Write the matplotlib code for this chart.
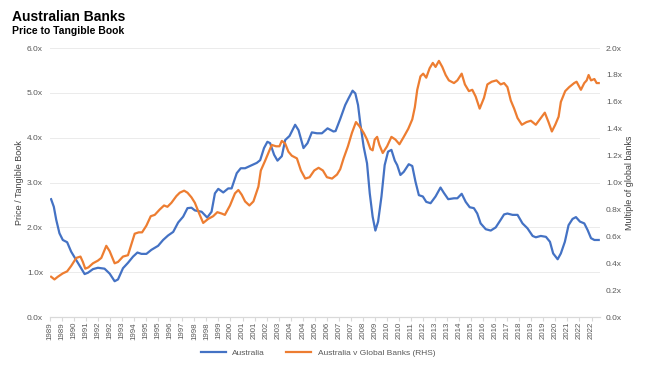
import matplotlib
matplotlib.use('Agg')
import matplotlib.pyplot as plt
from matplotlib.ticker import FuncFormatter

plt.rcParams['font.family'] = ['Liberation Sans', 'DejaVu Sans']

# Australia price to tangible book (left axis), decimal years
aus_t = [1989.07, 1989.24, 1989.39, 1989.59, 1989.80, 1990.07, 1990.32, 1990.64, 1990.90, 1991.16,
         1991.37, 1991.68, 1991.99, 1992.40, 1992.72, 1993.03, 1993.24, 1993.55, 1993.86, 1994.18,
         1994.45, 1994.70, 1995.01, 1995.32, 1995.74, 1996.05, 1996.36, 1996.68, 1996.99, 1997.30,
         1997.57, 1997.82, 1998.03, 1998.45, 1998.80, 1999.07, 1999.28, 1999.49, 1999.80, 2000.11,
         2000.32, 2000.64, 2000.89, 2001.16, 2001.47, 2001.89, 2002.10, 2002.34, 2002.55, 2002.72,
         2002.97, 2003.18, 2003.45, 2003.66, 2003.93, 2004.28, 2004.49, 2004.80, 2005.05, 2005.32,
         2005.64, 2005.95, 2006.30, 2006.67, 2006.80, 2007.09, 2007.40, 2007.61, 2007.86, 2008.03,
         2008.20, 2008.34, 2008.55, 2008.76, 2008.93, 2009.11, 2009.28, 2009.45, 2009.66, 2009.86,
         2010.07, 2010.28, 2010.49, 2010.64, 2010.84, 2011.05, 2011.36, 2011.58, 2011.78, 2011.99,
         2012.24, 2012.45, 2012.72, 2013.03, 2013.34, 2013.55, 2013.82, 2014.18, 2014.39, 2014.66,
         2014.91, 2015.16, 2015.42, 2015.63, 2015.84, 2016.16, 2016.47, 2016.78, 2017.09, 2017.30,
         2017.51, 2017.83, 2018.14, 2018.45, 2018.76, 2019.08, 2019.28, 2019.59, 2019.91, 2020.16,
         2020.36, 2020.64, 2020.84, 2021.09, 2021.32, 2021.57, 2021.78, 2022.03, 2022.30, 2022.51,
         2022.72, 2022.93, 2023.20]
aus_pb = [2.63, 2.46, 2.17, 1.87, 1.72, 1.67, 1.46, 1.27, 1.12, 0.96,
          0.99, 1.07, 1.10, 1.08, 0.97, 0.80, 0.84, 1.09, 1.21, 1.35,
          1.44, 1.41, 1.41, 1.50, 1.59, 1.72, 1.82, 1.90, 2.11, 2.24,
          2.43, 2.44, 2.38, 2.35, 2.22, 2.35, 2.76, 2.86, 2.78, 2.87,
          2.87, 3.21, 3.32, 3.32, 3.37, 3.44, 3.50, 3.77, 3.91, 3.88,
          3.62, 3.49, 3.59, 3.95, 4.04, 4.29, 4.17, 3.77, 3.88, 4.12,
          4.10, 4.10, 4.21, 4.14, 4.15, 4.42, 4.73, 4.88, 5.05, 4.99,
          4.73, 4.32, 3.80, 3.43, 2.76, 2.24, 1.93, 2.13, 2.69, 3.39,
          3.69, 3.73, 3.49, 3.39, 3.17, 3.24, 3.41, 3.37, 3.02, 2.72,
          2.69, 2.57, 2.54, 2.69, 2.89, 2.77, 2.63, 2.65, 2.65, 2.75,
          2.57, 2.45, 2.43, 2.31, 2.09, 1.96, 1.93, 2.00, 2.17, 2.29,
          2.31, 2.28, 2.28, 2.09, 1.98, 1.81, 1.78, 1.81, 1.79, 1.68,
          1.42, 1.29, 1.42, 1.68, 2.05, 2.19, 2.23, 2.13, 2.09, 1.94,
          1.76, 1.72, 1.72]

# Australia v global banks (right axis)
rel_t = [1989.07, 1989.28, 1989.49, 1989.80, 1990.07, 1990.32, 1990.64, 1990.90, 1991.05, 1991.20,
         1991.40, 1991.68, 1991.99, 1992.20, 1992.51, 1992.72, 1993.03, 1993.24, 1993.55, 1993.86,
         1994.28, 1994.53, 1994.74, 1995.01, 1995.28, 1995.53, 1995.84, 1996.11, 1996.32, 1996.57,
         1996.88, 1997.09, 1997.36, 1997.57, 1997.82, 1998.03, 1998.30, 1998.55, 1998.86, 1999.17,
         1999.43, 1999.70, 1999.90, 2000.22, 2000.53, 2000.74, 2000.95, 2001.16, 2001.43, 2001.68,
         2001.99, 2002.14, 2002.40, 2002.61, 2002.82, 2003.09, 2003.30, 2003.45, 2003.66, 2003.86,
         2004.07, 2004.39, 2004.64, 2004.91, 2005.18, 2005.47, 2005.74, 2006.01, 2006.26, 2006.58,
         2006.89, 2007.09, 2007.30, 2007.57, 2007.82, 2008.07, 2008.28, 2008.55, 2008.76, 2008.97,
         2009.11, 2009.24, 2009.39, 2009.53, 2009.74, 2010.01, 2010.28, 2010.53, 2010.78, 2011.05,
         2011.33, 2011.58, 2011.74, 2011.89, 2012.09, 2012.26, 2012.45, 2012.66, 2012.86, 2013.03,
         2013.24, 2013.45, 2013.66, 2013.86, 2014.18, 2014.39, 2014.66, 2014.86, 2015.11, 2015.32,
         2015.53, 2015.78, 2016.05, 2016.26, 2016.53, 2016.83, 2017.09, 2017.30, 2017.51, 2017.72,
         2017.93, 2018.14, 2018.41, 2018.70, 2018.97, 2019.28, 2019.59, 2019.84, 2020.07, 2020.28,
         2020.49, 2020.70, 2020.84, 2021.11, 2021.36, 2021.67, 2021.82, 2022.09, 2022.30, 2022.45,
         2022.57, 2022.72, 2022.93, 2023.07, 2023.20]
rel_pb = [0.30, 0.28, 0.30, 0.325, 0.34, 0.38, 0.44, 0.45, 0.41, 0.36,
          0.37, 0.40, 0.42, 0.44, 0.53, 0.49, 0.40, 0.41, 0.45, 0.46,
          0.62, 0.63, 0.63, 0.68, 0.75, 0.76, 0.80, 0.83, 0.82, 0.85,
          0.90, 0.925, 0.94, 0.925, 0.89, 0.85, 0.77, 0.70, 0.73, 0.75,
          0.78, 0.77, 0.76, 0.83, 0.92, 0.945, 0.91, 0.86, 0.83, 0.86,
          0.97, 1.09, 1.16, 1.22, 1.28, 1.27, 1.27, 1.31, 1.29, 1.23,
          1.20, 1.18, 1.09, 1.03, 1.04, 1.09, 1.11, 1.09, 1.04, 1.03,
          1.06, 1.10, 1.18, 1.27, 1.37, 1.45, 1.42, 1.37, 1.32, 1.25,
          1.24, 1.32, 1.34, 1.28, 1.22, 1.27, 1.34, 1.32, 1.285, 1.34,
          1.40, 1.47, 1.56, 1.69, 1.79, 1.81, 1.78, 1.85, 1.89, 1.86,
          1.905, 1.86, 1.80, 1.76, 1.74, 1.76, 1.81, 1.73, 1.68, 1.69,
          1.64, 1.55, 1.63, 1.73, 1.75, 1.76, 1.73, 1.74, 1.71, 1.61,
          1.55, 1.48, 1.43, 1.45, 1.46, 1.43, 1.48, 1.52, 1.45, 1.38,
          1.43, 1.49, 1.60, 1.68, 1.71, 1.74, 1.75, 1.69, 1.74, 1.76,
          1.80, 1.76, 1.77, 1.74, 1.74]

# category axis labels, one every 9 months from Jan 1989
tick_labels = ['1989', '1989', '1990', '1991', '1992', '1992', '1993', '1994', '1995', '1995',
               '1996', '1997', '1998', '1998', '1999', '2000', '2001', '2001', '2002', '2003',
               '2004', '2004', '2005', '2006', '2007', '2007', '2008', '2009', '2010', '2010',
               '2011', '2012', '2013', '2013', '2014', '2015', '2016', '2016', '2017', '2018',
               '2019', '2019', '2020', '2021', '2022', '2022']
tick_pos = [1989 + 0.75 * i for i in range(len(tick_labels))]

blue = '#4472C4'
orange = '#ED7D31'
txt = '#595959'

fig = plt.figure(figsize=(6.49, 3.70), dpi=100)
ax = fig.add_axes([0.077, 0.143, 0.848, 0.727])
ax2 = ax.twinx()

l1, = ax.plot(aus_t, aus_pb, color=blue, lw=1.6, label='Australia')
l2, = ax2.plot(rel_t, rel_pb, color=orange, lw=1.6, label='Australia v Global Banks (RHS)')

ax.set_xlim(1989.0, 2023.3)
ax.set_ylim(0, 6)
ax2.set_ylim(0, 2)
ax.set_yticks(range(7))
ax2.set_yticks([i * 0.2 for i in range(11)])
ax.yaxis.set_major_formatter(FuncFormatter(lambda v, p: '%.1fx' % v))
ax2.yaxis.set_major_formatter(FuncFormatter(lambda v, p: '%.1fx' % v))

ax.set_xticks(tick_pos)
ax.set_xticklabels(tick_labels, rotation=90, fontsize=5.7, color=txt)

ax.grid(axis='y', color='#ebebeb', lw=0.7)
ax.set_axisbelow(True)
for a in (ax, ax2):
    for s in ['top', 'left', 'right']:
        a.spines[s].set_visible(False)
    a.spines['bottom'].set_color('#d9d9d9')
ax.tick_params(axis='x', length=3, color='#d9d9d9', pad=0.5)
ax.tick_params(axis='y', length=0, labelsize=6, labelcolor=txt, pad=5)
ax2.tick_params(axis='y', length=0, labelsize=6, labelcolor=txt, pad=4)

ax.set_ylabel('Price / Tangible Book', fontsize=6.5, color='#404040', labelpad=2)
ax2.set_ylabel('Multiple of global banks', fontsize=6.5, color='#404040', labelpad=2)

fig.text(0.018, 0.955, 'Australian Banks', fontsize=10, fontweight='bold', va='center')
fig.text(0.018, 0.915, 'Price to Tangible Book', fontsize=7.5, fontweight='bold', va='center')

fig.legend([l1, l2], [l1.get_label(), l2.get_label()], loc='center', bbox_to_anchor=(0.49, 0.045),
           ncol=2, frameon=False, fontsize=6, handlelength=3, columnspacing=2.5, labelcolor=txt)

fig.savefig('out.png', dpi=100)
